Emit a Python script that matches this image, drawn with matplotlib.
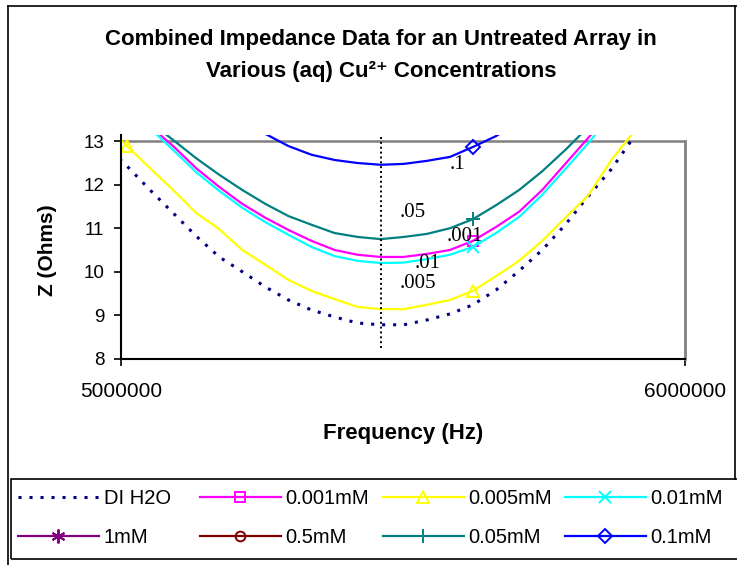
import numpy as np
import matplotlib
matplotlib.use('Agg')
import matplotlib.pyplot as plt
from matplotlib.lines import Line2D
from matplotlib.patches import Rectangle

plt.rcParams['font.family'] = ['Liberation Sans', 'DejaVu Sans']

nan = np.nan

# sweep frequencies (Hz)
freq = [4969700, 5010600, 5051500, 5092400, 5133300, 5174200, 5215100,
        5256000, 5296900, 5337800, 5378700, 5419600, 5460500, 5501400,
        5542300, 5583200, 5624100, 5665000, 5705900, 5746800, 5787700,
        5828600, 5869500, 5910400, 5951300]

# impedance magnitude (Ohms) for each solution
z_di = [12.95, 12.43, 11.88, 11.35, 10.82, 10.34, 10.00, 9.65, 9.35, 9.12,
        8.96, 8.82, 8.78, 8.78, 8.89, 9.03, 9.24, 9.58, 10.02, 10.50, 11.08,
        11.74, 12.36, 13.12, nan]
z_0001 = [nan, nan, 13.35, 12.89, 12.38, 11.95, 11.56, 11.24, 10.96, 10.71,
          10.50, 10.39, 10.34, 10.34, 10.41, 10.50, 10.71, 11.03, 11.38,
          11.88, 12.48, 13.08, 13.70, nan, nan]
z_0005 = [13.42, 12.89, 12.38, 11.88, 11.35, 10.98, 10.50, 10.16, 9.81, 9.56,
          9.37, 9.19, 9.14, 9.14, 9.24, 9.35, 9.56, 9.90, 10.25, 10.71, 11.24,
          11.76, 12.57, 13.24, nan]
z_001 = [nan, nan, 13.30, 12.80, 12.29, 11.86, 11.47, 11.14, 10.85, 10.57,
         10.36, 10.25, 10.20, 10.21, 10.29, 10.39, 10.57, 10.89, 11.26, 11.77,
         12.36, 12.96, 13.60, nan, nan]
z_005 = [nan, nan, 13.44, 13.03, 12.61, 12.23, 11.88, 11.56, 11.28, 11.08,
         10.89, 10.80, 10.75, 10.80, 10.87, 11.00, 11.21, 11.53, 11.88, 12.31,
         12.80, 13.33, nan, nan, nan]
z_01 = [nan, nan, nan, nan, nan, nan, 13.50, 13.17, 12.89, 12.69, 12.57,
        12.50, 12.46, 12.48, 12.55, 12.64, 12.87, 13.12, 13.45, nan, nan, nan,
        nan, nan, nan]
z_1 = []
z_05 = []

f_res = 5460500

# inline labels: (text, freq, Z)
tags = [('.1', 5595700, 12.46), ('.05', 5517700, 11.37),
        ('.001', 5609900, 10.82), ('.01', 5543900, 10.18),
        ('.005', 5526600, 9.72)]

yticks = [8, 9, 10, 11, 12, 13]
xticks = [5000000, 6000000]
xticklabels = ['5000000', '6000000']

W, H = 737, 565
fig = plt.figure(figsize=(W / 100, H / 100), dpi=100)
ax = fig.add_axes([121 / W, 1 - 358.7 / H, 564 / W, 223.5 / H])

series = [
    ('DI H2O', z_di, dict(color='#000080', ls=(0, (1, 2.6)), lw=2.2, marker=None)),
    ('0.001mM', z_0001, dict(color='#FF00FF', marker='s', ms=7, mfc='none')),
    ('0.005mM', z_0005, dict(color='#FFFF00', marker='^', ms=9, mfc='none')),
    ('0.01mM', z_001, dict(color='#00FFFF', marker='x', ms=8)),
    ('1mM', z_1, dict(color='#800080', marker=(6, 2, 0), ms=10)),
    ('0.5mM', z_05, dict(color='#800000', marker='o', ms=7, mfc='none')),
    ('0.05mM', z_005, dict(color='#008080', marker='+', ms=10)),
    ('0.1mM', z_01, dict(color='#0000FF', marker='D', ms=7, mfc='none')),
]

handles = {}
for name, z, st in series:
    st = dict(st)
    st.setdefault('ls', '-')
    st.setdefault('lw', 1.6)
    x = freq[:len(z)]
    h, = ax.plot(x, z, markevery=(1, 15), mew=1.4, label=name, **st)
    handles[name] = h

ax.axhline(13, color='#808080', lw=1.8, zorder=0.5)
ax.plot([f_res, f_res], [8.25, 13.14], color='black', ls=(0, (1, 1.5)), lw=1.4)

for t, fx, fz in tags:
    ax.text(fx, fz, t, family='Liberation Serif', fontsize=15,
            ha='center', va='center', zorder=5)

ax.set_xlim(5000000, 6000000)
ax.set_ylim(8, 13.14)
ax.set_yticks(yticks)
ax.set_xticks(xticks)
ax.set_xticklabels(xticklabels)
ax.tick_params(axis='y', direction='out', length=5, width=1.2, pad=7, labelsize=13.5)
ax.tick_params(axis='x', direction='out', length=5, width=1.2, pad=12, labelsize=15)
ax.spines['top'].set_visible(False)
ax.spines['right'].set_color('#808080')
ax.spines['right'].set_linewidth(2)
ax.spines['right'].set_bounds(8, 13)
for s in ('left', 'bottom'):
    ax.spines[s].set_linewidth(1.5)

fig.text(381 / W, 1 - 40 / H, 'Combined Impedance Data for an Untreated Array in',
         ha='center', va='center', fontsize=16, fontweight='bold')
fig.text(381 / W, 1 - 72 / H, 'Various (aq) Cu²⁺ Concentrations',
         ha='center', va='center', fontsize=16, fontweight='bold')
fig.text(48 / W, 1 - 250 / H, 'Z (Ohms)', rotation=90, ha='center', va='center',
         fontsize=15, fontweight='bold')
fig.text(403 / W, 1 - 433 / H, 'Frequency (Hz)', ha='center', va='center',
         fontsize=16, fontweight='bold')

# outer chart border
fig.add_artist(Line2D([8 / W, 8 / W], [0, 1 - 6 / H], color='black', lw=1.2))
fig.add_artist(Line2D([8 / W, 1], [1 - 6 / H, 1 - 6 / H], color='black', lw=1.2))
fig.add_artist(Line2D([735 / W, 735 / W], [1 - 479 / H, 1 - 6 / H], color='black', lw=1.2))

# legend box and its four columns
fig.add_artist(Rectangle((11 / W, 1 - 559 / H), 740 / W, 80 / H, fill=False,
                         ec='black', lw=1.2))
columns = [('DI H2O', '1mM'), ('0.001mM', '0.5mM'),
           ('0.005mM', '0.05mM'), ('0.01mM', '0.1mM')]
col_x = [18, 200, 383, 565]
for (a, b), cx in zip(columns, col_x):
    fig.legend([handles[a], handles[b]], [a, b], loc='center left',
               bbox_to_anchor=(cx / W, 1 - 518 / H), frameon=False,
               fontsize=14.5, handlelength=4.0, handletextpad=0.25,
               labelspacing=0.95, borderpad=0, borderaxespad=0, numpoints=1,
               markerscale=1.0)

fig.savefig('out.png', dpi=100)
